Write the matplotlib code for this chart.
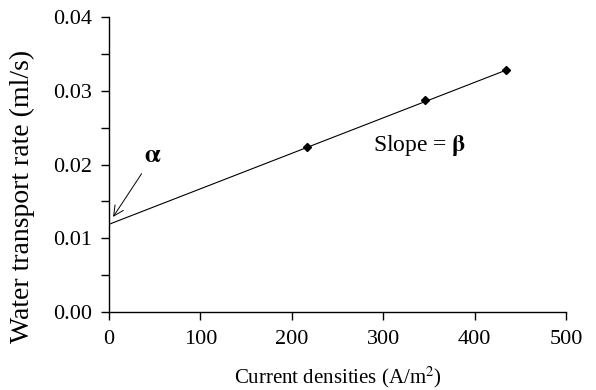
import matplotlib
matplotlib.use("Agg")
import matplotlib.pyplot as plt
from matplotlib.ticker import MultipleLocator, FormatStrFormatter

# measured points
current = [216, 346, 434]
water_rate = [0.0224, 0.02875, 0.0328]
# fitted line endpoints
line_x = [0, 434]
line_y = [0.0119, 0.0328]

plt.rcParams.update({"font.family": "serif", "font.serif": ["Liberation Serif", "DejaVu Serif"],
                     "font.size": 11, "mathtext.fontset": "stix"})

fig = plt.figure(figsize=(5.96, 3.9), dpi=100)
ax = fig.add_axes([0.183, 0.2, 0.767, 0.756])

ax.plot(line_x, line_y, color="black", linewidth=0.8)
ax.plot(current, water_rate, linestyle="none", marker="D", markersize=4.5, color="black")

ax.set_xlim(0, 500)
ax.set_ylim(0, 0.04)
ax.xaxis.set_major_locator(MultipleLocator(100))
ax.yaxis.set_major_locator(MultipleLocator(0.01))
ax.yaxis.set_minor_locator(MultipleLocator(0.005))
ax.yaxis.set_major_formatter(FormatStrFormatter("%.2f"))
ax.tick_params(direction="out", length=6, width=1, colors="black", labelsize=16)
ax.tick_params(axis="y", which="minor", direction="out", length=6, width=1)
ax.tick_params(axis="y", pad=6)
ax.tick_params(axis="x", pad=7)

for s in ["top", "right"]:
    ax.spines[s].set_visible(False)
for s in ["left", "bottom"]:
    ax.spines[s].set_linewidth(1)

ax.set_xlabel("Current densities (A/m$^2$)", fontsize=15, labelpad=11)
fig.text(22 / 596, 1 - 196 / 390, "Water transport rate (ml/s)", fontsize=20,
         rotation=90, ha="center", va="center")

ax.annotate(r"$\mathbf{\alpha}$", xy=(4.4, 0.0129), xytext=(48, 0.0211),
            fontsize=18, ha="center", va="center",
            arrowprops=dict(arrowstyle="->", color="black", lw=0.7,
                            shrinkA=3, shrinkB=0))
ax.text(340, 0.0226, r"Slope = $\mathbf{\beta}$", fontsize=17, ha="center", va="center")

fig.savefig("out.png", dpi=100)
